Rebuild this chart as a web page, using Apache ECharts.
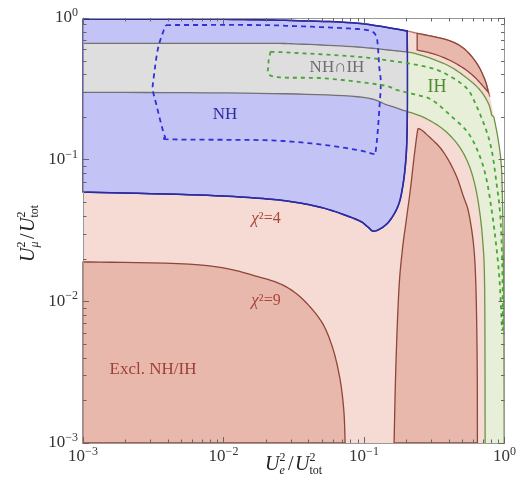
<!DOCTYPE html>
<html><head><meta charset="utf-8">
<script src="https://cdn.jsdelivr.net/npm/echarts@6/dist/echarts.min.js"></script>
<style>html,body{margin:0;padding:0;background:#fff}#c{width:519px;height:501px}</style>
</head><body><div id="c"></div>
<script>
// ---------- data ----------
const xTicks = [0.001, 0.01, 0.1, 1];
const yTicks = [0.001, 0.01, 0.1, 1];
const tickExponents = ['\u22123', '\u22122', '\u22121', '0'];
const minorTicks = [0.002,0.003,0.004,0.005,0.006,0.007,0.008,0.009,
                    0.02,0.03,0.04,0.05,0.06,0.07,0.08,0.09,
                    0.2,0.3,0.4,0.5,0.6,0.7,0.8,0.9];

// physical boundary (top-right edge of allowed region)
const outer = [[0.001,0.98],[0.01,0.978],[0.034,0.957],[0.09,0.918],[0.203,0.81],[0.239,0.78],
  [0.39,0.70],[0.511,0.611],[0.634,0.479],[0.726,0.365],[0.787,0.278],[0.84,0.2],[0.9,0.14],
  [0.95,0.09],[0.97,0.045],[0.978,0.025],[0.988,0.01],[0.995,0.001]];

// NH allowed region: right/bottom edge
const blueEdge = [[0.203,0.81],[0.2035,0.5],[0.2035,0.25],[0.2025,0.154],[0.1985,0.0995],[0.1885,0.0644],
  [0.174,0.0466],[0.147,0.0356],[0.119,0.0313],[0.106,0.0336],[0.0901,0.0375],[0.0525,0.0453],
  [0.0306,0.0505],[0.0178,0.0534],[0.0067,0.0563],[0.001,0.0591]];

// excluded (chi2 > 9) regions
const exclLeft = [[0.001,0.019],[0.0067,0.0181],[0.0178,0.0149],[0.0305,0.012],[0.0471,0.0078],
  [0.0584,0.00505],[0.067,0.00294],[0.0718,0.00171],[0.0734,0.001]];
const archLeft = [[0.1637,0.001],[0.1686,0.0035],[0.1771,0.012],[0.1875,0.023],[0.2,0.0375],
  [0.2136,0.0611],[0.226,0.0995],[0.2353,0.1376],[0.2411,0.162],[0.2451,0.166]];
const archRight = [[0.2451,0.166],[0.2595,0.1606],[0.2737,0.1535],[0.359,0.117],[0.4457,0.0801],
  [0.511,0.0548],[0.5568,0.042],[0.6041,0.0243],[0.6269,0.012],[0.6393,0.0035],[0.6414,0.001]];
const sliverOuter = [[0.239,0.78],[0.39,0.70],[0.511,0.611],[0.634,0.479],[0.726,0.365],[0.765,0.30]];
const sliverInner = [[0.765,0.30],[0.601,0.39],[0.458,0.473],[0.331,0.548],[0.239,0.594]];

// IH allowed band
const bandTop = [[0.001,0.662],[0.0178,0.662],[0.034,0.655],[0.09,0.624],[0.173,0.585],[0.239,0.557],
  [0.39,0.466],[0.539,0.377],[0.669,0.31],[0.767,0.25],[0.81,0.2065]];
const bandBottom = [[0.001,0.299],[0.0178,0.294],[0.09,0.278],[0.147,0.243],[0.1875,0.224],[0.2595,0.201],
  [0.359,0.1665],[0.458,0.1305],[0.539,0.0995],[0.604,0.0718],[0.655,0.0479],[0.699,0.0271],
  [0.7225,0.012],[0.728,0.001]];
// NH ∩ IH overlap
const overlapTop = [[0.001,0.662],[0.0178,0.662],[0.034,0.655],[0.09,0.624],[0.173,0.585],[0.2035,0.576]];
const overlapBottom = [[0.2035,0.2195],[0.1875,0.224],[0.147,0.243],[0.09,0.278],[0.0178,0.294],[0.001,0.299]];

// dashed contours
const blueDash = [[0.0039,0.892],[0.0178,0.892],[0.0305,0.878],[0.0525,0.86],[0.09,0.836],[0.111,0.81],
  [0.121,0.759],[0.125,0.662],[0.1284,0.453],[0.1317,0.346],[0.1284,0.224],[0.1249,0.1535],[0.1209,0.1138],
  [0.1183,0.1096],[0.09,0.117],[0.0525,0.127],[0.0305,0.134],[0.0178,0.1376],[0.0041,0.1392],
  [0.00384,0.1453],[0.00359,0.1806],[0.00331,0.25],[0.00314,0.31],[0.00317,0.365],[0.0034,0.594],
  [0.00369,0.78],[0.0039,0.892]];
const greenDashUpper = [[0.0216,0.578],[0.034,0.566],[0.09,0.533],[0.173,0.491],[0.239,0.466],[0.331,0.43],
  [0.434,0.375],[0.539,0.319],[0.604,0.264],[0.726,0.171],[0.81,0.117],[0.878,0.068],[0.926,0.044],
  [0.952,0.027],[0.968,0.0141],[0.976,0.0063]];
const greenDashLower = [[0.96,0.0063],[0.922,0.0141],[0.864,0.0271],[0.81,0.0441],[0.746,0.0718],
  [0.669,0.105],[0.554,0.1535],[0.422,0.201],[0.305,0.264],[0.239,0.286],[0.173,0.31],[0.132,0.337],
  [0.0525,0.375],[0.0227,0.386],[0.0209,0.466],[0.0216,0.578]];

// ---------- drawing ----------
const FONT = "'Liberation Serif','DejaVu Serif',serif";
const C = {
  lightPink:'#f5dbd4', darkPink:'#e8b8ac', brown:'#8f4537', outerPink:'#b9705f',
  blueFill:'#c3c3f6', blueLine:'#2b2ba3', grayFill:'#dedede', grayLine:'#727272',
  greenFill:'#e8efd8', greenLine:'#6c9443', blueDash:'#3030d8', greenDash:'#46a636'
};

function smoothPts(pieces, api) {
  const out = [];
  pieces.forEach(piece => {
    const P = piece.map(p => api.coord(p));
    const n = P.length;
    if (n < 3) { P.forEach(p => out.push(p)); return; }
    for (let i = 0; i < n - 1; i++) {
      const p0 = P[Math.max(i - 1, 0)], p1 = P[i], p2 = P[i + 1], p3 = P[Math.min(i + 2, n - 1)];
      const steps = 10;
      for (let s = 0; s < steps; s++) {
        const t = s / steps, t2 = t * t, t3 = t2 * t;
        out.push([0, 1].map(k => 0.5 * (2 * p1[k] + (-p0[k] + p2[k]) * t +
          (2 * p0[k] - 5 * p1[k] + 4 * p2[k] - p3[k]) * t2 +
          (-p0[k] + 3 * p1[k] - 3 * p2[k] + p3[k]) * t3)));
      }
    }
    out.push(P[n - 1]);
  });
  return out;
}

function renderAll(params, api) {
  const kids = [];
  const poly = (pieces, fill, stroke, lw) => {
    const st = {fill: fill};
    if (stroke) { st.stroke = stroke; st.lineWidth = lw; }
    kids.push({type:'polygon', shape:{points:smoothPts(pieces, api)}, style:st});
  };
  const line = (pieces, stroke, lw, dash) => {
    const st = {fill:'none', stroke:stroke, lineWidth:lw};
    if (dash) st.lineDash = dash;
    kids.push({type:'polyline', shape:{points:smoothPts(pieces, api)}, style:st});
  };

  const outerRight = outer.filter(p => p[0] >= 0.84);
  const outerMid = outer.filter(p => p[0] >= 0.203 && p[0] <= 0.787);
  const blueTop = outer.filter(p => p[0] <= 0.203);

  poly([[[0.001,0.001]], outer], C.lightPink);
  line([outerMid], C.outerPink, 1.3);
  poly([exclLeft, [[0.001,0.001]]], C.darkPink, C.brown, 1.3);
  poly([archLeft, archRight], C.darkPink, C.brown, 1.3);
  poly([sliverOuter, sliverInner], C.darkPink, C.brown, 1.3);
  poly([bandTop, outerRight, bandBottom.slice().reverse()], C.greenFill);
  line([bandTop, outerRight], C.greenLine, 1.3);
  line([bandBottom], C.greenLine, 1.3);
  poly([blueTop, blueEdge], C.blueFill, C.blueLine, 1.5);
  poly([overlapTop, overlapBottom], C.grayFill);
  line([overlapTop], C.grayLine, 1.3);
  line([overlapBottom], C.grayLine, 1.3);
  line([blueTop, blueEdge], C.blueLine, 1.5);
  line([blueDash], C.blueDash, 1.8, [5, 4]);
  line([greenDashUpper, greenDashLower], C.greenDash, 1.8, [4, 4]);
  return {type:'group', children:kids};
}

function expLabel(ticks) {
  return v => {
    const i = ticks.findIndex(t => Math.abs(Math.log10(t) - Math.log10(v)) < 1e-6);
    return i < 0 ? '' : '{b|10}{s|' + tickExponents[i] + '}';
  };
}
const richTick = {
  b: {fontFamily: FONT, fontSize: 17, color: '#333', lineHeight: 22},
  s: {fontFamily: FONT, fontSize: 12, color: '#333', lineHeight: 11, verticalAlign: 'top'}
};
const axLine = {show: true, lineStyle: {color: '#999', width: 1}};
const majorTick = {show: true, inside: true, length: 6, lineStyle: {color: '#666', width: 1}};

function txt(x, y, t, font, fill) {
  return {type:'text', x:x, y:y, style:{text:t, font:font, fill:fill || '#222',
    align:'left', verticalAlign:'middle', textAlign:'left', textVerticalAlign:'middle'}};
}
function titleGroup(x, y, rot, sub) {
  const big = 'italic 20px ' + FONT, sm = '12px ' + FONT, smi = 'italic 12px ' + FONT;
  return {type:'group', x:x, y:y, rotation:rot, z:100, children:[
    txt(0, 0, 'U', big), txt(14.5, -7, '2', sm), txt(14.5, 6, sub, smi),
    txt(23, 0, '/', '20px ' + FONT), txt(30, 0, 'U', big), txt(44.5, -7, '2', sm), txt(44.5, 6, 'tot', sm)
  ]};
}
function label(x, y, t, size, fill) {
  return {type:'text', x:x, y:y, z:100, style:{text:t, font:size + 'px ' + FONT, fill:fill,
    align:'center', verticalAlign:'middle', textAlign:'center', textVerticalAlign:'middle'}};
}
function chiLabel(x, y, n) {
  return {type:'text', x:x, y:y, z:100, style:{text:'{i|\u03c7}{n|\u00b2=' + n + '}', fill:'#a8473b',
    align:'center', verticalAlign:'middle', textAlign:'center', textVerticalAlign:'middle',
    rich:{i:{fontFamily:FONT, fontStyle:'italic', fontSize:17, fill:'#a8473b', color:'#a8473b'},
          n:{fontFamily:FONT, fontSize:16, fill:'#a8473b', color:'#a8473b'}}}};
}

const chart = echarts.init(document.getElementById('c'), null, {renderer:'canvas'});
chart.setOption({
  animation: false,
  backgroundColor: '#fff',
  grid: {left: 83, right: 11, top: 18, bottom: 58, containLabel: false},
  xAxis: [
    {type:'log', logBase:10, min:0.001, max:1, position:'bottom', z:10, axisLine:axLine, axisTick:majorTick,
     splitLine:{show:false}, axisLabel:{formatter:expLabel(xTicks), rich:richTick, margin:3, showMaxLabel:true, showMinLabel:true}},
    {type:'log', logBase:10, min:0.001, max:1, position:'top', z:10, axisLine:axLine, axisTick:majorTick,
     splitLine:{show:false}, axisLabel:{show:false}}
  ],
  yAxis: [
    {type:'log', logBase:10, min:0.001, max:1, position:'left', z:10, axisLine:axLine, axisTick:majorTick,
     splitLine:{show:false}, axisLabel:{formatter:expLabel(yTicks), rich:richTick, margin:5, showMaxLabel:true, showMinLabel:true}},
    {type:'log', logBase:10, min:0.001, max:1, position:'right', z:10, axisLine:axLine, axisTick:majorTick,
     splitLine:{show:false}, axisLabel:{show:false}}
  ],
  series: [{
    type:'custom', coordinateSystem:'cartesian2d', xAxisIndex:0, yAxisIndex:0, silent:true, z:2,
    renderItem: renderAll, data: [[0.01, 0.01]]
  }]
});

// minor inward tick marks on all four sides, positioned through the chart's own axis scales
const tickEls = [];
const toPx = (x, y) => chart.convertToPixel({xAxisIndex: 0, yAxisIndex: 0}, [x, y]);
function addTick(v, len, isX) {
  if (isX) {
    const b = toPx(v, 0.001), t = toPx(v, 1);
    const x = Math.round(b[0]) + 0.5;
    tickEls.push({type:'line', z:100, shape:{x1:x, y1:b[1], x2:x, y2:b[1] - len}, style:{stroke:'#666', lineWidth:1}});
    tickEls.push({type:'line', z:100, shape:{x1:x, y1:t[1], x2:x, y2:t[1] + len}, style:{stroke:'#666', lineWidth:1}});
  } else {
    const l = toPx(0.001, v), r = toPx(1, v);
    const y = Math.round(l[1]) + 0.5;
    tickEls.push({type:'line', z:100, shape:{x1:l[0], y1:y, x2:l[0] + len, y2:y}, style:{stroke:'#666', lineWidth:1}});
    tickEls.push({type:'line', z:100, shape:{x1:r[0], y1:y, x2:r[0] - len, y2:y}, style:{stroke:'#666', lineWidth:1}});
  }
}
minorTicks.forEach(v => { addTick(v, 3.5, true); addTick(v, 3.5, false); });

chart.setOption({
  graphic: [
    label(225, 115, 'NH', 17, C.blueLine),
    label(337, 68, 'NH\u2229IH', 17, '#6e6e6e'),
    label(437, 87, 'IH', 18, '#4e8a2e'),
    chiLabel(266, 219, 4),
    chiLabel(266, 301, 9),
    label(153, 370, 'Excl. NH/IH', 17, '#9c3f35'),
    titleGroup(265, 465, 0, 'e'),
    titleGroup(29, 262, Math.PI / 2, '\u03bc')
  ].concat(tickEls)
});
</script></body></html>
